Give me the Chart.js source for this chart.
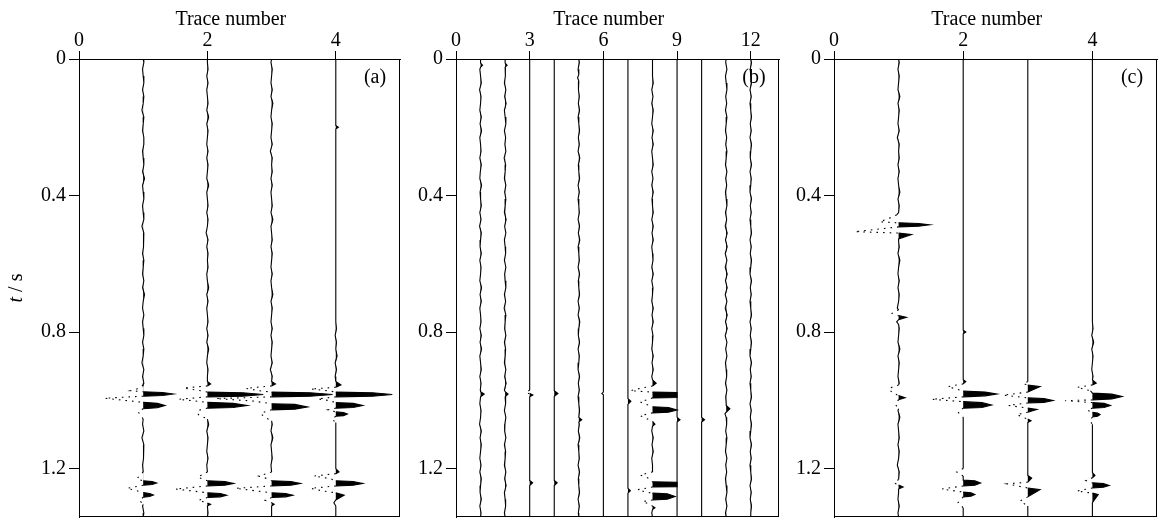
<!DOCTYPE html>
<html lang="en">
<head>
<meta charset="UTF-8" />
<title>Trace number / t (s)</title>
<script src="https://cdn.jsdelivr.net/npm/chart.js@4.4.0/dist/chart.umd.min.js"></script>
<style>
  body { margin: 0; background: #fff; }
  .panel { position: absolute; top: 0; }
</style>
</head>
<body>
<div class="panel" style="left:0"><canvas id="chartA" width="410" height="519"></canvas></div>
<div class="panel" style="left:410px"><canvas id="chartB" width="380" height="519"></canvas></div>
<div class="panel" style="left:790px"><canvas id="chartC" width="375" height="519"></canvas></div>
<script>
// axes
const timeTicks = [0, 0.4, 0.8, 1.2];
const tMax = 1.342;
const traceTicksA = [0, 2, 4];
const traceTicksB = [0, 3, 6, 9, 12];
const traceTicksC = [0, 2, 4];
const tracePosA = [1, 2, 3, 4];
const tracePosB = [1, 2, 3, 4, 5, 6, 7, 8, 9, 10, 11, 12];
const tracePosC = [1, 2, 3, 4];

// background jitter: one sample every 20 ms from 10 ms, in hundredths of a trace spacing
const jitterA = [
  [1,-1,0,1,-1,1,0,-2,1,0, -1,1,1,-1,0,1,-1,2,-1,0, 1,-1,0,1,-2,1,0,1,-1,1,
   0,-1,1,-1,2,0,-1,1,-1,0, 1,-1,1,0,-2,1,-1,1,0,1, -1,0,1,-1,1,-2,1,0,1,-1, 0,1,-1,1,0,-1,1],
  [0,1,-1,1,-1,0,1,-1,2,-1, 1,0,-1,1,-1,1,0,-1,2,-1, 0,1,-1,1,0,-2,1,-1,1,0,
   1,-1,0,2,-1,1,-1,0,1,-1, 1,-1,2,0,-1,1,0,-1,1,-1, 1,0,-1,2,-1,1,0,-1,1,-1, 0,1,-1,0,1,-1,1],
  [-1,1,0,-1,1,-1,2,0,-1,1, 0,-1,1,-2,1,0,1,-1,1,-1, 0,1,-1,2,-1,0,1,-1,1,0,
   -1,1,-1,0,2,-1,1,0,-1,1, -1,1,0,-1,1,-2,1,0,1,-1, 1,-1,0,1,-1,2,-1,0,1,-1, 1,0,-1,1,-1,1,0],
  [0,0,0,0,0,0,0,0,0,0, 0,0,0,0,0,0,0,0,0,0, 0,0,0,0,0,0,0,0,0,0,
   0,0,0,0,0,0,0,0,0,1, -1,1,0,2,-1,1,-1,0,0,0, 0,0,0,0,0,0,0,0,0,0, 0,0,0,0,0,0,0]
];
const jitterB = [
  [3,-3,0,3,-4,2,0,-3,3,-2, 4,-3,0,2,-3,3,-1,-3,4,-2, 0,3,-3,2,-4,3,0,-2,3,-3,
   2,0,-3,4,-2,3,-3,0,2,-3, 3,-2,4,-3,0,3,-3,2,-1,3, -3,2,0,-4,3,-2,3,0,-3,2, -3,3,0,-2,3,-3,2],
  [-3,2,0,-3,3,-2,4,-3,0,3, -3,2,-1,3,-4,2,0,-3,3,-2, 3,0,-3,4,-2,3,-3,0,2,-3,
   3,-2,0,3,-3,2,-4,3,0,-2, 3,-3,2,0,-3,3,-2,4,-3,0, 2,-3,3,-1,-2,3,-3,2,0,-3, 3,-2,4,-3,0,2,-3],
  null, null,
  [2,-3,3,0,-3,2,-2,3,-3,0, 3,-2,2,-3,4,-2,0,3,-3,2, -3,0,2,-3,3,-2,4,-3,0,2,
   -3,3,-2,0,3,-3,2,-3,4,0, -2,3,-3,2,0,-3,3,-2,2,-3, 0,3,-3,2,-2,4,-3,0,2,-3, 3,-2,0,3,-3,2,-2],
  null, null,
  [0,0,0,3,-3,2,-3,3,0,-3, 3,-2,3,-3,0,3,-3,2,-3,3, -2,0,3,-3,3,-2,3,-3,0,2, -3,3,-3,2,0,-3,3,-2,3,-3,
   2,0,-3,3,-2,3,-3,0,3,-2, 3,-3,0,2,-3,3,-2,3,-3,0, 2,-3,3,-2,0,3,-3],
  null, null,
  [-2,3,-3,0,3,-2,2,-3,3,0, -3,2,-2,3,0,-3,3,-2,2,-3, 0,3,-3,2,-4,4,-3,4,-4,3, -4,4,-3,4,-4,3,-4,4,-3,4,
   -4,3,-2,3,-3,0,2,-3,3,-2, 0,3,-3,2,-2,3,0,-3,3,-2, 2,-3,0,3,-2,3,-3],
  [3,-2,0,3,-3,2,-3,0,3,-2, 2,-3,3,0,-2,3,-3,2,0,-3, 3,-2,2,-3,0,3,-3,2,-2,3,
   0,-3,3,-2,2,-3,0,3,-3,2, -2,3,0,-3,3,-2,2,-3,0,3, -3,2,-2,3,0,-3,3,-2,2,-3, 0,3,-3,2,-2,3,0]
];
const jitterC = [
  [1,-1,1,0,-1,2,-1,1,0,-1, 1,-2,1,0,1,-1,1,-1,0,2, -1,1,0,-1,1,-1,0,1,-1,2,
   0,-1,1,-1,1,0,-2,1,-1,1, 0,-1,2,-1,1,0,-1,1,-1,0, 1,-1,2,-1,0,1,-1,1,0,-2, 1,-1,1,0,-1,1,-1],
  null,
  null,
  [0,0,0,0,0,0,0,0,0,0, 0,0,0,0,0,0,0,0,0,0, 0,0,0,0,0,0,0,0,0,0,
   0,0,0,0,0,0,0,0,0,1, -1,2,-1,1,0,-1,1,0,0,0, 0,0,0,0,0,0,0,0,0,0, 0,0,0,0,0,0,0]
];

// reflections: [t (s), amplitude (trace spacings)], grouped by event
const eventsA = [
  [
    [[0.955,0],[0.967,-0.1],[0.972,-0.2],[0.975,0],[0.977,0.3],[0.9815,0.47],[0.986,0.3],[0.988,0],[0.994,-0.6],[1.006,0],[1.009,0.22],[1.0155,0.34],[1.022,0.22],[1.025,0],[1.033,-0.08],[1.045,-0.04],[1.055,0]],
    [[1.21,0],[1.222,-0.06],[1.23,-0.1],[1.236,0],[1.238,0.14],[1.2425,0.21],[1.247,0.14],[1.249,0],[1.258,-0.25],[1.27,0],[1.273,0.1],[1.2775,0.16],[1.282,0.1],[1.284,0],[1.293,-0.06],[1.305,0]]
  ],
  [
    [[0.945,0],[0.952,0.05],[0.958,0],[0.964,-0.37],[0.972,-0.1],[0.976,0],[0.978,0.55],[0.983,0.87],[0.988,0.55],[0.99,0],[0.997,-0.45],[1.006,0],[1.009,0.4],[1.0155,0.62],[1.021,0.4],[1.023,0],[1.03,-0.15],[1.042,-0.14],[1.055,0]],
    [[1.21,0],[1.225,-0.15],[1.236,0],[1.238,0.27],[1.2435,0.41],[1.249,0.27],[1.251,0],[1.26,-0.5],[1.271,0],[1.273,0.2],[1.278,0.3],[1.283,0.2],[1.285,0],[1.293,-0.14],[1.301,0],[1.305,0.05],[1.31,0]]
  ],
  [
    [[0.945,0],[0.952,0.06],[0.958,0],[0.965,-0.4],[0.972,-0.2],[0.976,0],[0.978,0.6],[0.983,0.95],[0.988,0.6],[0.99,0],[0.995,-0.87],[1.002,-0.3],[1.01,0],[1.012,0.36],[1.0195,0.56],[1.026,0.36],[1.028,0],[1.038,-0.17],[1.048,-0.12],[1.06,0]],
    [[1.21,0],[1.222,-0.2],[1.23,-0.06],[1.236,0],[1.238,0.3],[1.2435,0.45],[1.249,0.3],[1.251,0],[1.258,-0.56],[1.266,-0.22],[1.271,0],[1.273,0.22],[1.278,0.33],[1.283,0.22],[1.285,0],[1.293,-0.1],[1.3,0],[1.305,0.04],[1.31,0]]
  ],
  [
    [[0.195,0],[0.2,0.04],[0.205,0]],
    [[0.945,0],[0.955,0.08],[0.962,0],[0.967,-0.39],[0.972,-0.12],[0.976,0],[0.978,0.57],[0.983,0.88],[0.988,0.57],[0.99,0],[0.996,-0.28],[1.001,-0.1],[1.007,0],[1.009,0.27],[1.0155,0.42],[1.021,0.27],[1.023,0],[1.028,-0.12],[1.034,0],[1.036,0.12],[1.0405,0.18],[1.045,0.12],[1.047,0],[1.055,-0.06],[1.065,0]],
    [[1.2,0],[1.21,0.05],[1.215,0],[1.222,-0.34],[1.23,-0.08],[1.236,0],[1.238,0.27],[1.2435,0.42],[1.249,0.27],[1.251,0],[1.258,-0.39],[1.266,-0.2],[1.271,0],[1.278,0.13],[1.292,0],[1.3,-0.03],[1.31,0]]
  ]
];
const eventsB = [
  [[[0.012,0],[0.018,0.08],[0.024,0]], [[0.975,0],[0.982,0.15],[0.99,0]]],
  [[[0.012,0],[0.018,0.08],[0.024,0]], [[0.975,0],[0.982,0.12],[0.99,0]]],
  [[[0.97,0],[0.978,-0.15],[0.984,0.15],[0.99,0]], [[1.235,0],[1.242,0.12],[1.25,0]]],
  [[[0.972,0],[0.98,0.15],[0.988,0]], [[1.235,0],[1.242,0.12],[1.25,0]]],
  [[[0.045,0],[0.055,-0.05],[0.065,0]], [[1.05,0],[1.057,0.12],[1.064,0]]],
  [[[0.976,0],[0.98,-0.06],[0.984,0]]],
  [[[0.995,0],[1.003,0.12],[1.012,0]], [[1.258,0],[1.265,0.1],[1.272,0]]],
  [
    [[0.94,0],[0.95,0.15],[0.958,0],[0.965,-0.5],[0.972,-0.9],[0.976,0],[0.977,1],[0.992,1],[0.993,0],[1.005,-0.5],[1.019,0],[1.021,0.65],[1.0285,1],[1.035,0.65],[1.037,0],[1.045,-0.5],[1.055,-0.2],[1.062,0],[1.07,0.1],[1.076,0]],
    [[1.21,0],[1.219,-0.5],[1.23,-0.1],[1.239,0],[1.24,1],[1.253,1],[1.254,0],[1.262,-0.6],[1.27,-0.2],[1.272,0],[1.274,0.6],[1.282,0.92],[1.29,0.6],[1.292,0],[1.297,-0.4],[1.305,-0.1],[1.31,0],[1.315,0.1],[1.32,0]]
  ],
  [[[1.05,0],[1.057,0.12],[1.064,0]]],
  [[[1.05,0],[1.057,0.12],[1.064,0]]],
  [[[1.015,0],[1.025,0.15],[1.035,0],[1.04,-0.05],[1.05,0]]],
  []
];
const eventsC = [
  [
    [[0.45,0],[0.457,-0.03],[0.467,-0.15],[0.477,-0.29],[0.48,0],[0.482,0.31],[0.486,0.48],[0.49,0.31],[0.492,0],[0.506,-0.68],[0.51,0],[0.514,0.2],[0.527,0],[0.535,0]],
    [[0.735,0],[0.745,-0.1],[0.752,0],[0.757,0.12],[0.764,0],[0.77,-0.03],[0.778,0]],
    [[0.955,0],[0.965,-0.15],[0.978,-0.1],[0.986,0],[0.9925,0.1],[0.998,0],[1.012,-0.05],[1.025,0]],
    [[1.232,0],[1.242,-0.07],[1.248,0],[1.254,0.07],[1.26,0]]
  ],
  [
    [[0.795,0],[0.8,0.04],[0.805,0]],
    [[0.94,0],[0.945,0.04],[0.952,0],[0.96,-0.24],[0.97,-0.05],[0.973,0],[0.976,0.34],[0.9815,0.52],[0.987,0.34],[0.99,0],[0.997,-0.49],[1.004,0],[1.007,0.29],[1.014,0.44],[1.021,0.29],[1.023,0],[1.035,-0.08],[1.05,0]],
    [[1.2,0],[1.21,-0.1],[1.222,0],[1.234,0],[1.236,0.18],[1.2425,0.27],[1.249,0.18],[1.251,0],[1.26,-0.33],[1.269,0],[1.271,0.12],[1.276,0.18],[1.281,0.12],[1.283,0],[1.3,-0.08],[1.315,0]]
  ],
  [
    [[0.945,0],[0.952,-0.07],[0.955,0],[0.96,0.19],[0.976,0],[0.985,-0.38],[0.993,0],[0.995,0.25],[1.0005,0.39],[1.006,0.25],[1.008,0],[1.015,-0.3],[1.023,0],[1.027,0.14],[1.035,0],[1.042,-0.17],[1.05,-0.07],[1.055,0],[1.06,0.05],[1.065,0]],
    [[1.22,0],[1.228,0.06],[1.24,0],[1.245,-0.32],[1.257,0],[1.262,0.19],[1.283,0],[1.295,-0.12],[1.31,0]]
  ],
  [
    [[0.94,0],[0.95,0.06],[0.955,0],[0.962,-0.24],[0.972,-0.03],[0.979,0],[0.982,0.3],[0.989,0.46],[0.996,0.3],[0.999,0],[1.001,-0.42],[1.007,0],[1.009,0.18],[1.0155,0.28],[1.021,0.18],[1.023,0],[1.029,-0.08],[1.035,0],[1.037,0.08],[1.042,0.12],[1.047,0.08],[1.049,0],[1.06,-0.04],[1.07,0]],
    [[1.212,0],[1.22,0.04],[1.227,0],[1.235,-0.1],[1.242,0],[1.244,0.17],[1.2495,0.26],[1.255,0.17],[1.257,0],[1.266,-0.24],[1.272,0],[1.276,0.09],[1.3,0]]
  ]
];

const FONT = '"Liberation Serif", "Times New Roman", serif';

// merge jitter samples and event samples into one time-sorted trace
function buildTrace(jit, events) {
  const pts = [];
  if (jit) {
    jit.forEach((v, i) => {
      const t = 0.01 + 0.02 * i;
      const inEvent = events.some(c => t >= c[0][0] - 0.004 && t <= c[c.length - 1][0] + 0.004);
      if (!inEvent) pts.push([t, v / 100]);
    });
  }
  events.forEach(c => c.forEach(p => pts.push(p)));
  pts.sort((a, b) => a[0] - b[0]);
  return [[0, 0], ...pts, [tMax, 0]];
}

function traceDatasets(pos, pts, dashLimit) {
  const lobes = {
    data: pts.map(p => ({ x: pos + Math.max(p[1], 0), y: p[0] })),
    borderWidth: 0,
    borderColor: 'rgba(0,0,0,0)',
    backgroundColor: '#000',
    pointRadius: 0,
    fill: { value: pos }
  };
  const wiggle = {
    data: pts.map(p => ({ x: pos + p[1], y: p[0] })),
    borderColor: '#000',
    borderWidth: 1.1,
    pointRadius: 0,
    fill: false,
    segment: {
      borderDash: c => (c.p0.parsed.x < pos - dashLimit || c.p1.parsed.x < pos - dashLimit) ? [1.6, 5] : undefined
    }
  };
  return [lobes, wiggle];
}

const panelText = {
  id: 'panelText',
  afterDraw(chart, args, o) {
    const { ctx, chartArea: a } = chart;
    ctx.save();
    ctx.strokeStyle = '#000';
    ctx.lineWidth = 1;
    ctx.strokeRect(Math.round(a.left) + 0.5, Math.round(a.top) + 0.5,
      Math.round(a.right - a.left) - 1, Math.round(a.bottom - a.top) - 1);
    ctx.fillStyle = '#000';
    ctx.font = '20px ' + FONT;
    ctx.textAlign = 'center';
    ctx.textBaseline = 'alphabetic';
    ctx.fillText(o.title, a.left + 0.473 * (a.right - a.left), 25);
    ctx.fillText(o.tag, a.right - 25, 83);
    if (o.yTitle) {
      ctx.translate(17, (a.top + a.bottom) / 2);
      ctx.rotate(-Math.PI / 2);
      ctx.font = 'italic 20px ' + FONT;
      const w1 = ctx.measureText('t').width;
      ctx.font = '20px ' + FONT;
      const w2 = ctx.measureText(' / s').width;
      ctx.textAlign = 'left';
      ctx.textBaseline = 'middle';
      ctx.font = 'italic 20px ' + FONT;
      ctx.fillText('t', -(w1 + w2) / 2, 0);
      ctx.font = '20px ' + FONT;
      ctx.fillText(' / s', -(w1 + w2) / 2 + w1, 0);
    }
    ctx.restore();
  }
};

function makePanel(id, cfg) {
  const datasets = [];
  cfg.pos.forEach((p, i) => {
    const pts = buildTrace(cfg.jitter[i], cfg.events[i]);
    datasets.push(...traceDatasets(p, pts, cfg.dashLimit));
  });
  return new Chart(document.getElementById(id), {
    type: 'line',
    data: { datasets },
    options: {
      indexAxis: 'y',
      responsive: false,
      animation: false,
      events: [],
      layout: { padding: { left: 0, top: 0, right: cfg.padRight, bottom: 2 } },
      plugins: {
        legend: { display: false },
        tooltip: { enabled: false },
        panelText: { title: 'Trace number', tag: cfg.tag, yTitle: cfg.yTitle }
      },
      scales: {
        x: {
          type: 'linear',
          position: 'top',
          min: 0,
          max: cfg.xMax,
          afterBuildTicks: s => { s.ticks = cfg.xTicks.map(v => ({ value: v })); },
          afterFit: s => { s.height = 59; s.paddingLeft = 0; s.paddingRight = 0; },
          ticks: { color: '#000', padding: 0, maxRotation: 0, autoSkip: false,
                   font: { family: FONT, size: 20, lineHeight: 1 } },
          grid: { drawOnChartArea: false, drawTicks: true, tickLength: 8, color: '#000', lineWidth: 1 },
          border: { display: true, color: '#000', width: 1 }
        },
        y: {
          type: 'linear',
          reverse: true,
          min: 0,
          max: tMax,
          afterBuildTicks: s => { s.ticks = timeTicks.map(v => ({ value: v })); },
          afterFit: s => { s.width = cfg.yWidth; s.paddingTop = 0; s.paddingBottom = 0; },
          ticks: { color: '#000', padding: 3, autoSkip: false,
                   font: { family: FONT, size: 20, lineHeight: 1 },
                   callback: v => (v === 0 ? '0' : v.toFixed(1)) },
          grid: { drawOnChartArea: false, drawTicks: true, tickLength: 10, color: '#000', lineWidth: 1 },
          border: { display: true, color: '#000', width: 1 }
        }
      }
    },
    plugins: [panelText]
  });
}

makePanel('chartA', { pos: tracePosA, jitter: jitterA, events: eventsA, xMax: 5, xTicks: traceTicksA,
  yWidth: 79, padRight: 10, tag: '(a)', yTitle: true, dashLimit: 0.03 });
makePanel('chartB', { pos: tracePosB, jitter: jitterB, events: eventsB, xMax: 13.15, xTicks: traceTicksB,
  yWidth: 46, padRight: 11, tag: '(b)', yTitle: false, dashLimit: 0.06 });
makePanel('chartC', { pos: tracePosC, jitter: jitterC, events: eventsC, xMax: 5, xTicks: traceTicksC,
  yWidth: 44, padRight: 8, tag: '(c)', yTitle: false, dashLimit: 0.03 });
</script>
</body>
</html>
